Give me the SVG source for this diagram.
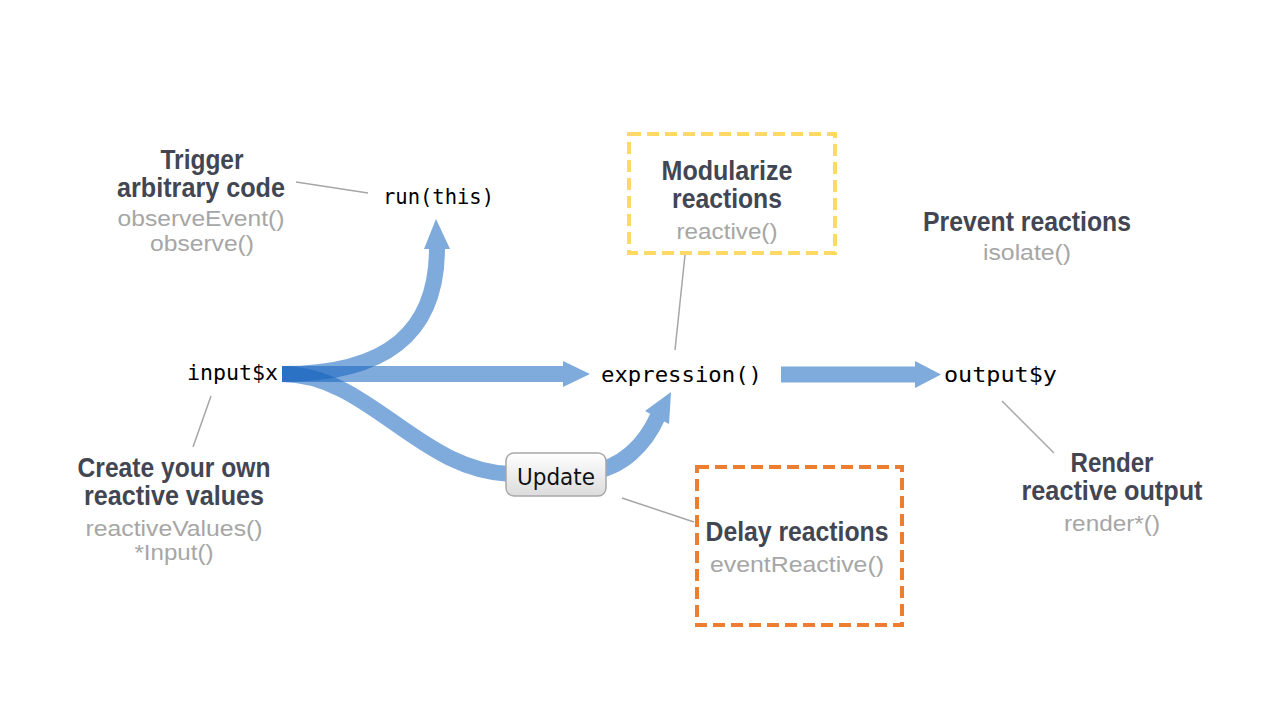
<svg xmlns="http://www.w3.org/2000/svg" width="1280" height="720" viewBox="0 0 1280 720">
<defs>
<style>
.h{font-family:"Liberation Sans",Arial,sans-serif;font-weight:bold;font-size:27px;fill:#424652;text-anchor:middle}
.g{font-family:"Liberation Sans",Arial,sans-serif;font-size:22px;fill:#A6A6A6;text-anchor:middle}
.m{font-family:"DejaVu Sans Mono","Liberation Mono",monospace;font-size:22px;fill:#000}
.lead{stroke:#A6A6A6;stroke-width:1.5;fill:none}
.shaft{fill:none;stroke:#1565C0;stroke-width:16}
.head{fill:#1565C0}
</style>
<linearGradient id="btn" x1="0" y1="0" x2="0" y2="1">
<stop offset="0" stop-color="#FFFFFF"/>
<stop offset="1" stop-color="#DCDCDC"/>
</linearGradient>
</defs>
<rect width="1280" height="720" fill="#FFFFFF"/>

<g id="connectors">
<g id="arrow-up" opacity="0.55">
<path class="shaft" d="M282,374 C390,374 437,330 437,248"/>
<polygon class="head" points="424,249 450,249 436,219"/>
</g>
<g id="arrow-mid" opacity="0.55">
<path class="shaft" d="M282,374 L564,374"/>
<polygon class="head" points="563,361 563,387 590,374"/>
</g>
<g id="arrow-low" opacity="0.55">
<path class="shaft" d="M282,374 C370,374 420,474 515,474 L590,472 C622,468 645,445 658,416"/>
<polygon class="head" points="645,411 669,424 671,392"/>
</g>
<g id="arrow-out" opacity="0.55">
<path class="shaft" d="M781,374.5 L916,374.5" stroke-width="15"/>
<polygon class="head" points="915,361 915,388 941,374.5"/>
</g>
<line class="lead" x1="296" y1="182" x2="368" y2="193"/>
<line class="lead" x1="685" y1="255" x2="675" y2="350"/>
<line class="lead" x1="211" y1="396" x2="193" y2="447"/>
<line class="lead" x1="622" y1="498" x2="694" y2="522"/>
<line class="lead" x1="1002" y1="401" x2="1054" y2="453"/>
</g>

<g id="input-x">
<text class="m" x="187" y="380" textLength="91" lengthAdjust="spacingAndGlyphs">input$x</text>
</g>
<g id="expression">
<text class="m" x="601" y="382" textLength="161" lengthAdjust="spacingAndGlyphs">expression()</text>
</g>
<g id="output-y">
<text class="m" x="944" y="382" textLength="113" lengthAdjust="spacingAndGlyphs">output$y</text>
</g>
<g id="run-this">
<text class="m" x="383" y="204" textLength="111" lengthAdjust="spacingAndGlyphs">run(this)</text>
</g>

<g id="update-button">
<rect x="506" y="453" width="100" height="43" rx="8" ry="8" fill="url(#btn)" stroke="#A8A8A8" stroke-width="1.5"/>
<text x="556" y="485" font-family="'DejaVu Sans','Noto Sans',sans-serif" font-size="23" fill="#111" text-anchor="middle" textLength="78" lengthAdjust="spacingAndGlyphs">Update</text>
</g>

<g id="trigger">
<text class="h" x="202" y="169" textLength="83" lengthAdjust="spacingAndGlyphs">Trigger</text>
<text class="h" x="201" y="197" textLength="168" lengthAdjust="spacingAndGlyphs">arbitrary code</text>
<text class="g" x="201" y="226" textLength="167" lengthAdjust="spacingAndGlyphs">observeEvent()</text>
<text class="g" x="202" y="251" textLength="104" lengthAdjust="spacingAndGlyphs">observe()</text>
</g>

<g id="modularize">
<rect x="629" y="134" width="206" height="119" fill="none" stroke="#FFD966" stroke-width="4" stroke-dasharray="12 6"/>
<text class="h" x="727" y="180" textLength="131" lengthAdjust="spacingAndGlyphs">Modularize</text>
<text class="h" x="727" y="208" textLength="110" lengthAdjust="spacingAndGlyphs">reactions</text>
<text class="g" x="727" y="239" textLength="101" lengthAdjust="spacingAndGlyphs">reactive()</text>
</g>

<g id="prevent">
<text class="h" x="1027" y="231" textLength="208" lengthAdjust="spacingAndGlyphs">Prevent reactions</text>
<text class="g" x="1027" y="260" textLength="88" lengthAdjust="spacingAndGlyphs">isolate()</text>
</g>

<g id="create">
<text class="h" x="174" y="477" textLength="193" lengthAdjust="spacingAndGlyphs">Create your own</text>
<text class="h" x="174" y="505" textLength="180" lengthAdjust="spacingAndGlyphs">reactive values</text>
<text class="g" x="174" y="536" textLength="177" lengthAdjust="spacingAndGlyphs">reactiveValues()</text>
<text class="g" x="174" y="560" textLength="79" lengthAdjust="spacingAndGlyphs">*Input()</text>
</g>

<g id="delay">
<rect x="697" y="467" width="205" height="158" fill="none" stroke="#ED7D31" stroke-width="4" stroke-dasharray="12 6"/>
<text class="h" x="797" y="541" textLength="183" lengthAdjust="spacingAndGlyphs">Delay reactions</text>
<text class="g" x="797" y="572" textLength="174" lengthAdjust="spacingAndGlyphs">eventReactive()</text>
</g>

<g id="render">
<text class="h" x="1112" y="472" textLength="83" lengthAdjust="spacingAndGlyphs">Render</text>
<text class="h" x="1112" y="500" textLength="181" lengthAdjust="spacingAndGlyphs">reactive output</text>
<text class="g" x="1112" y="531" textLength="96" lengthAdjust="spacingAndGlyphs">render*()</text>
</g>
</svg>
